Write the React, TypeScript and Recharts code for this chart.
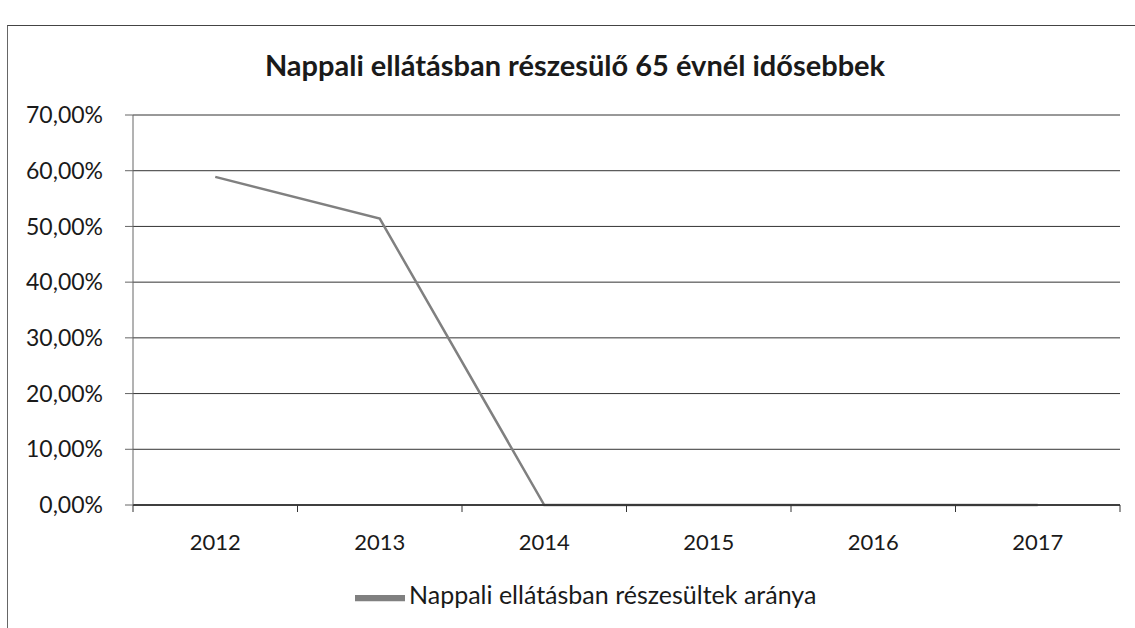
import React from 'react';
import { LineChart, Line, XAxis, YAxis, CartesianGrid, Legend } from 'recharts';

const years = [2012, 2013, 2014, 2015, 2016, 2017];
const ratios = [58.9, 51.4, 0, 0, 0, 0];
const yTicks = [0, 10, 20, 30, 40, 50, 60, 70];
const edgeTicks = [2011.5, 2012.5, 2013.5, 2014.5, 2015.5, 2016.5, 2017.5];
const title = 'Nappali ellátásban részesülő 65 évnél idősebbek';
const seriesName = 'Nappali ellátásban részesültek aránya';

const data = years.map((y, i) => ({ year: y, value: ratios[i] }));
const FONT = 'Lato, "Open Sans", sans-serif';

export default function App() {
  return (
    <div style={{ position: 'absolute', left: 0, top: 0, width: 1135, height: 628, background: '#fff', fontFamily: FONT, overflow: 'hidden' }}>
      <div style={{ position: 'absolute', left: 7, top: 25, width: 1140, height: 620, borderLeft: '1px solid #666', borderTop: '1.5px solid #444' }} />
      <div style={{ position: 'absolute', left: 0, top: 47, width: 1150, textAlign: 'center', fontSize: 29, fontWeight: 700, color: '#1a1a1a' }}>
        {title}
      </div>
      <div style={{ position: 'absolute', left: 0, top: 0 }}>
        <LineChart width={1135} height={628} data={data} margin={{ top: 65, right: 15, left: 0, bottom: 61 }}>
          <CartesianGrid vertical={false} stroke="#333" strokeWidth={1} />
          <XAxis
            xAxisId="lab"
            dataKey="year"
            type="number"
            domain={[2011.5, 2017.5]}
            ticks={years}
            tickLine={false}
            axisLine={false}
            tickSize={0}
            tickMargin={27}
            height={60}
            tick={{ fill: '#1a1a1a', fontSize: 22, fontFamily: FONT }}
          />
          <XAxis
            xAxisId="edge"
            dataKey="year"
            type="number"
            domain={[2011.5, 2017.5]}
            ticks={edgeTicks}
            tick={() => <g />}
            tickSize={7}
            tickLine={{ stroke: '#333' }}
            axisLine={{ stroke: '#222', strokeWidth: 1.5 }}
            height={2}
            stroke="#333"
          />
          <YAxis
            ticks={yTicks}
            domain={[0, 70]}
            width={133}
            tickSize={8}
            tickMargin={22}
            stroke="#666"
            tickFormatter={(v: number) => v.toFixed(2).replace('.', ',') + '%'}
            tick={{ fill: '#1a1a1a', fontSize: 23, fontFamily: FONT }}
          />
          <Line
            xAxisId="lab"
            type="linear"
            dataKey="value"
            name={seriesName}
            stroke="#808080"
            strokeWidth={2.5}
            dot={false}
            isAnimationActive={false}
          />
          <Legend
            verticalAlign="top"
            iconType="plainline"
            iconSize={50}
            wrapperStyle={{ position: 'absolute', top: 573, left: 355, width: 'auto', fontSize: 25, fontFamily: FONT, color: '#1a1a1a' }}
            formatter={(v: string) => <span style={{ color: '#1a1a1a' }}>{v}</span>}
          />
        </LineChart>
      </div>
    </div>
  );
}
